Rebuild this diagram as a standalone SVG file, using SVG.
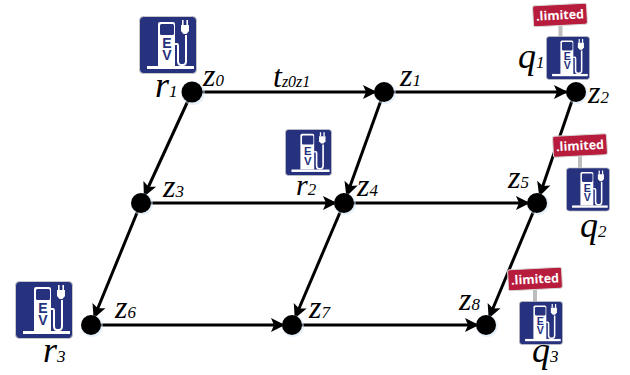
<svg xmlns="http://www.w3.org/2000/svg" xmlns:xlink="http://www.w3.org/1999/xlink" width="630" height="375" viewBox="0 0 630 375">
<style>
.edge{stroke:#000;stroke-width:3;fill:none;marker-end:url(#arrow)}
.dot{fill:#000}
.glow{fill:#cfe3f5;opacity:.5}
.v{font-family:"Liberation Serif",serif;font-style:italic;fill:#000}
.z{font-size:32px}
.rq{font-size:36px}
.sub{font-size:17px}
.tag{font-family:"Open Sans",sans-serif;font-weight:700;font-size:12.5px;fill:#fff}
</style>
<defs>
<marker id="arrow" markerUnits="userSpaceOnUse" markerWidth="14" markerHeight="14" refX="21" refY="7" orient="auto" viewBox="0 0 14 14" overflow="visible">
<path d="M0 0L14 7L0 14L3 7Z" fill="#000"/>
</marker>
<symbol id="ev" viewBox="0 0 58 58">
<rect x="0.5" y="0.5" width="57" height="57" rx="4" fill="#27327f" stroke="#c9c9c9" stroke-width="1"/>
<path d="M21 6H34Q36 6 36 8V50H19V8Q19 6 21 6Z" fill="#fff"/>
<rect x="8" y="50" width="47" height="3" fill="#fff"/>
<rect x="21" y="8" width="14" height="11" rx="1.5" fill="#27327f"/>
<text x="28" y="32" text-anchor="middle" font-family="Liberation Sans,sans-serif" font-weight="700" font-size="14" fill="#27327f">E</text>
<text x="28" y="44" text-anchor="middle" font-family="Liberation Sans,sans-serif" font-weight="700" font-size="14" fill="#27327f">V</text>
<path d="M36 28H38Q39 28 39 30V45Q39 49 42 49H44Q47 49 47 45V19" fill="none" stroke="#fff" stroke-width="2"/>
<path d="M42 9H50V15L47.500 18H44.500L42 15Z" fill="#fff"/>
<rect x="43" y="4" width="1.600" height="5" fill="#fff"/>
<rect x="47.400" y="4" width="1.600" height="5" fill="#fff"/>
</symbol>
<g id="tagshape">
<rect x="-27" y="-10.500" width="54" height="21" rx="2" fill="#b81c3c" stroke="#d9d9d9" stroke-width="1"/>
<text class="tag" x="0" y="4.500" text-anchor="middle">.limited</text>
</g>
</defs>

<g id="connectors">
<path class="edge" d="M192 92H384"/>
<path class="edge" d="M384 92H575"/>
<path class="edge" d="M192 92L141 203"/>
<path class="edge" d="M384 92L344 203"/>
<path class="edge" d="M575 92L537 203"/>
<path class="edge" d="M141 203L344 203"/>
<path class="edge" d="M344 203L537 203"/>
<path class="edge" d="M141 203L91 325"/>
<path class="edge" d="M344 203L292 325"/>
<path class="edge" d="M537 203L486 325"/>
<path class="edge" d="M91 325H292"/>
<path class="edge" d="M292 325H486"/>
</g>

<g id="node-z0"><circle class="glow" cx="193" cy="93" r="12"/><circle class="dot" cx="192" cy="92" r="10.500"/>
<text class="v" x="203" y="86"><tspan class="z">z</tspan><tspan class="sub">0</tspan></text></g>
<g id="node-z1"><circle class="glow" cx="385" cy="93" r="11"/><circle class="dot" cx="384" cy="92" r="10"/>
<text class="v" x="400" y="86"><tspan class="z">z</tspan><tspan class="sub">1</tspan></text></g>
<g id="node-z2"><circle class="glow" cx="577" cy="93" r="11"/><circle class="dot" cx="576" cy="92" r="10"/>
<text class="v" x="588" y="103"><tspan class="z">z</tspan><tspan class="sub">2</tspan></text></g>
<g id="node-z3"><circle class="glow" cx="142" cy="204" r="11"/><circle class="dot" cx="141" cy="203" r="10"/>
<text class="v" x="163" y="197"><tspan class="z">z</tspan><tspan class="sub">3</tspan></text></g>
<g id="node-z4"><circle class="glow" cx="345" cy="204" r="11"/><circle class="dot" cx="344" cy="203" r="10"/>
<text class="v" x="357" y="196"><tspan class="z">z</tspan><tspan class="sub">4</tspan></text></g>
<g id="node-z5"><circle class="glow" cx="538" cy="204" r="11"/><circle class="dot" cx="537" cy="203" r="10"/>
<text class="v" x="508" y="188"><tspan class="z">z</tspan><tspan class="sub">5</tspan></text></g>
<g id="node-z6"><circle class="glow" cx="92" cy="326" r="11"/><circle class="dot" cx="91" cy="325" r="10"/>
<text class="v" x="115" y="318"><tspan class="z">z</tspan><tspan class="sub">6</tspan></text></g>
<g id="node-z7"><circle class="glow" cx="293" cy="326" r="11"/><circle class="dot" cx="292" cy="325" r="10"/>
<text class="v" x="309" y="318"><tspan class="z">z</tspan><tspan class="sub">7</tspan></text></g>
<g id="node-z8"><circle class="glow" cx="487" cy="326" r="11"/><circle class="dot" cx="486" cy="325" r="10"/>
<text class="v" x="459" y="310"><tspan class="z">z</tspan><tspan class="sub">8</tspan></text></g>

<g id="label-t"><text class="v" x="273" y="87"><tspan class="z">t</tspan><tspan font-size="16">z0z1</tspan></text></g>

<g id="node-r1"><use xlink:href="#ev" href="#ev" x="139" y="16" width="58" height="58"/>
<text class="v" x="155" y="97"><tspan class="rq">r</tspan><tspan class="sub">1</tspan></text></g>
<g id="node-r2"><use xlink:href="#ev" href="#ev" x="285" y="129" width="47" height="47"/>
<text class="v" x="296" y="195"><tspan font-size="30">r</tspan><tspan class="sub">2</tspan></text></g>
<g id="node-r3"><use xlink:href="#ev" href="#ev" x="15" y="281" width="58" height="58"/>
<text class="v" x="43" y="362"><tspan class="rq">r</tspan><tspan class="sub">3</tspan></text></g>

<g id="node-q1">
<rect x="558.500" y="25" width="4" height="12" fill="#bdbdbd"/>
<use xlink:href="#ev" href="#ev" x="546" y="36" width="44" height="44"/>
<use xlink:href="#tagshape" href="#tagshape" transform="translate(560 15) rotate(-3)"/>
<text class="v" x="518" y="68"><tspan class="rq">q</tspan><tspan class="sub">1</tspan></text></g>
<g id="node-q2">
<rect x="578" y="156" width="4" height="12" fill="#bdbdbd"/>
<use xlink:href="#ev" href="#ev" x="566" y="167" width="44" height="45"/>
<use xlink:href="#tagshape" href="#tagshape" transform="translate(580 145.500) rotate(-3)"/>
<text class="v" x="580" y="237"><tspan class="rq">q</tspan><tspan class="sub">2</tspan></text></g>
<g id="node-q3">
<rect x="533" y="290" width="4" height="12" fill="#bdbdbd"/>
<use xlink:href="#ev" href="#ev" x="519" y="301" width="44" height="44"/>
<use xlink:href="#tagshape" href="#tagshape" transform="translate(535 279) rotate(-3)"/>
<text class="v" x="532" y="362"><tspan class="rq">q</tspan><tspan class="sub">3</tspan></text></g>
</svg>
